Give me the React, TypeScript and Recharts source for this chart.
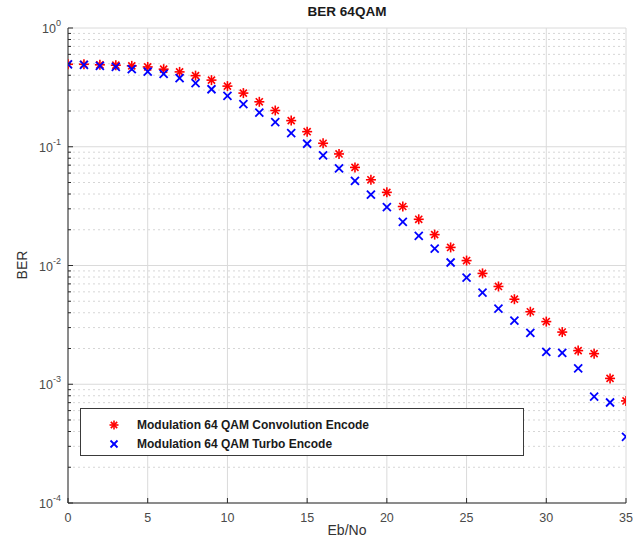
import React from 'react'
import {
  ScatterChart, Scatter, XAxis, YAxis, CartesianGrid,
} from 'recharts'

const ebno = [
  0, 1, 2, 3, 4, 5, 6, 7, 8, 9, 10, 11, 12, 13, 14, 15, 16, 17,
  18, 19, 20, 21, 22, 23, 24, 25, 26, 27, 28, 29, 30, 31, 32, 33, 34, 35,
]

const berConv = [
  0.495, 0.495, 0.49, 0.486, 0.48, 0.47, 0.45, 0.427, 0.397, 0.364, 0.324, 0.283,
  0.239, 0.202, 0.166, 0.134, 0.107, 0.087, 0.067, 0.0527, 0.0413, 0.0314, 0.0245, 0.0182,
  0.0142, 0.011, 0.00858, 0.00666, 0.0052, 0.00408, 0.00337, 0.00275, 0.00192, 0.00181, 0.00112, 0.000724,
]

const berTurbo = [
  0.495, 0.49, 0.48, 0.47, 0.45, 0.43, 0.41, 0.378, 0.343, 0.305, 0.268, 0.229,
  0.194, 0.161, 0.13, 0.106, 0.0845, 0.0657, 0.0517, 0.0396, 0.031, 0.0233, 0.0178, 0.0139,
  0.0106, 0.0079, 0.0059, 0.00434, 0.00344, 0.00271, 0.00187, 0.00184, 0.00136, 0.000788, 0.000702, 0.000361,
]

const xTicks = [0, 5, 10, 15, 20, 25, 30, 35]
const decades = [1e-4, 1e-3, 1e-2, 1e-1, 1]
const minorSteps = [2, 3, 4, 5, 6, 7, 8, 9]

const seriesNames = [
  'Modulation 64 QAM Convolution Encode',
  'Modulation 64 QAM Turbo Encode',
]

const minorValues = decades.slice(0, -1).flatMap(d => minorSteps.map(m => d * m))
const allYTicks = [...decades, ...minorValues].sort((a, b) => a - b)
const isMajor = (v: number) => decades.some(d => Math.abs(d - v) < d * 1e-6)

const convData = ebno.map((x, i) => ({ x, y: berConv[i] }))
const turboData = ebno.map((x, i) => ({ x, y: berTurbo[i] }))

const FONT = '"Liberation Sans", Arial, sans-serif'
const AXIS = '#2b2b2b'
const LABEL = '#4a4a4a'

const Asterisk = ({ cx, cy, r = 5 }: any) => {
  const d = r * 0.707
  return (
    <g stroke="#ff0000" strokeWidth={1.6}>
      <line x1={cx - r} y1={cy} x2={cx + r} y2={cy} />
      <line x1={cx} y1={cy - r} x2={cx} y2={cy + r} />
      <line x1={cx - d} y1={cy - d} x2={cx + d} y2={cy + d} />
      <line x1={cx - d} y1={cy + d} x2={cx + d} y2={cy - d} />
    </g>
  )
}

const Cross = ({ cx, cy, r = 4 }: any) => (
  <g stroke="#0000ff" strokeWidth={1.8}>
    <line x1={cx - r} y1={cy - r} x2={cx + r} y2={cy + r} />
    <line x1={cx - r} y1={cy + r} x2={cx + r} y2={cy - r} />
  </g>
)

const LeftTick = ({ x, y, payload }: any) => {
  const v = payload.value
  const major = isMajor(v)
  const exp = Math.round(Math.log10(v))
  return (
    <g>
      <line x1={x} x2={x + (major ? 5 : 3)} y1={y} y2={y} stroke={AXIS} />
      {major && (
        <text x={x - 7} y={y + 5} textAnchor="end" fill={LABEL} fontSize={12.5} fontFamily={FONT}>
          <tspan>10</tspan>
          <tspan dy={-7} fontSize={9}>{exp}</tspan>
        </text>
      )}
    </g>
  )
}

const RightTick = ({ x, y, payload }: any) => {
  const major = isMajor(payload.value)
  return <line x1={x} x2={x - (major ? 5 : 3)} y1={y} y2={y} stroke={AXIS} />
}

const BottomTick = ({ x, y, payload }: any) => (
  <g>
    <line x1={x} x2={x} y1={y} y2={y - 5} stroke={AXIS} />
    <text x={x} y={y + 19} textAnchor="middle" fill={LABEL} fontSize={12.5} fontFamily={FONT}>
      {payload.value}
    </text>
  </g>
)

const TopTick = ({ x, y }: any) => (
  <line x1={x} x2={x} y1={y} y2={y + 5} stroke={AXIS} />
)

export default function App() {
  return (
    <div style={{ position: 'absolute', left: 0, top: 0, width: 644, height: 545, background: '#fff', fontFamily: FONT }}>
      <ScatterChart width={644} height={545} margin={{ top: 28, right: 18, bottom: 0, left: 0 }}>
        <CartesianGrid
          horizontalValues={minorValues}
          vertical={false}
          stroke="#d6d6d6"
          strokeDasharray="2 3"
        />
        <CartesianGrid
          horizontalValues={decades}
          verticalValues={xTicks}
          stroke="#dadada"
        />
        <XAxis
          type="number"
          dataKey="x"
          domain={[0, 35]}
          ticks={xTicks}
          interval={0}
          allowDataOverflow
          height={42}
          tickSize={0}
          tickMargin={0}
          tick={<BottomTick />}
          tickLine={false}
          axisLine={{ stroke: AXIS }}
        />
        <XAxis
          xAxisId="top"
          orientation="top"
          type="number"
          domain={[0, 35]}
          ticks={xTicks}
          interval={0}
          allowDataOverflow
          height={0}
          tickSize={0}
          tickMargin={0}
          tick={<TopTick />}
          tickLine={false}
          axisLine={{ stroke: AXIS }}
        />
        <YAxis
          type="number"
          dataKey="y"
          scale="log"
          domain={[1e-4, 1]}
          ticks={allYTicks}
          interval={0}
          allowDataOverflow
          width={68}
          tickSize={0}
          tickMargin={0}
          tick={<LeftTick />}
          tickLine={false}
          axisLine={{ stroke: AXIS }}
        />
        <YAxis
          yAxisId="right"
          orientation="right"
          type="number"
          scale="log"
          domain={[1e-4, 1]}
          ticks={allYTicks}
          interval={0}
          allowDataOverflow
          width={0}
          tickSize={0}
          tickMargin={0}
          tick={<RightTick />}
          tickLine={false}
          axisLine={{ stroke: AXIS }}
        />
        <Scatter name={seriesNames[0]} data={convData} shape={<Asterisk />} isAnimationActive={false} />
        <Scatter name={seriesNames[1]} data={turboData} shape={<Cross />} isAnimationActive={false} />
      </ScatterChart>

      <div style={{ position: 'absolute', left: 0, width: 694, top: 4, textAlign: 'center', fontWeight: 'bold', fontSize: 13.5, color: '#1a1a1a' }}>
        BER 64QAM
      </div>
      <div style={{ position: 'absolute', left: 0, width: 694, top: 522, textAlign: 'center', fontSize: 14, color: '#333' }}>
        Eb/No
      </div>
      <div style={{ position: 'absolute', left: 22, top: 265, transform: 'translate(-50%, -50%) rotate(-90deg)', fontSize: 14, color: '#333' }}>
        BER
      </div>

      <div style={{ position: 'absolute', left: 80, top: 408, width: 444, height: 48, boxSizing: 'border-box', border: '1px solid #3a3a3a', background: '#fff' }}>
        {seriesNames.map((name, i) => (
          <div key={name} style={{ position: 'absolute', left: 0, top: 7 + i * 19, height: 18, display: 'flex', alignItems: 'center' }}>
            <svg width={60} height={18} style={{ display: 'block' }}>
              {i === 0 ? <Asterisk cx={33} cy={9} r={4.5} /> : <Cross cx={33} cy={9} r={3.5} />}
            </svg>
            <span style={{ marginLeft: -4, fontWeight: 'bold', fontSize: 12, color: '#1a1a1a', whiteSpace: 'nowrap' }}>{name}</span>
          </div>
        ))}
      </div>
    </div>
  )
}
